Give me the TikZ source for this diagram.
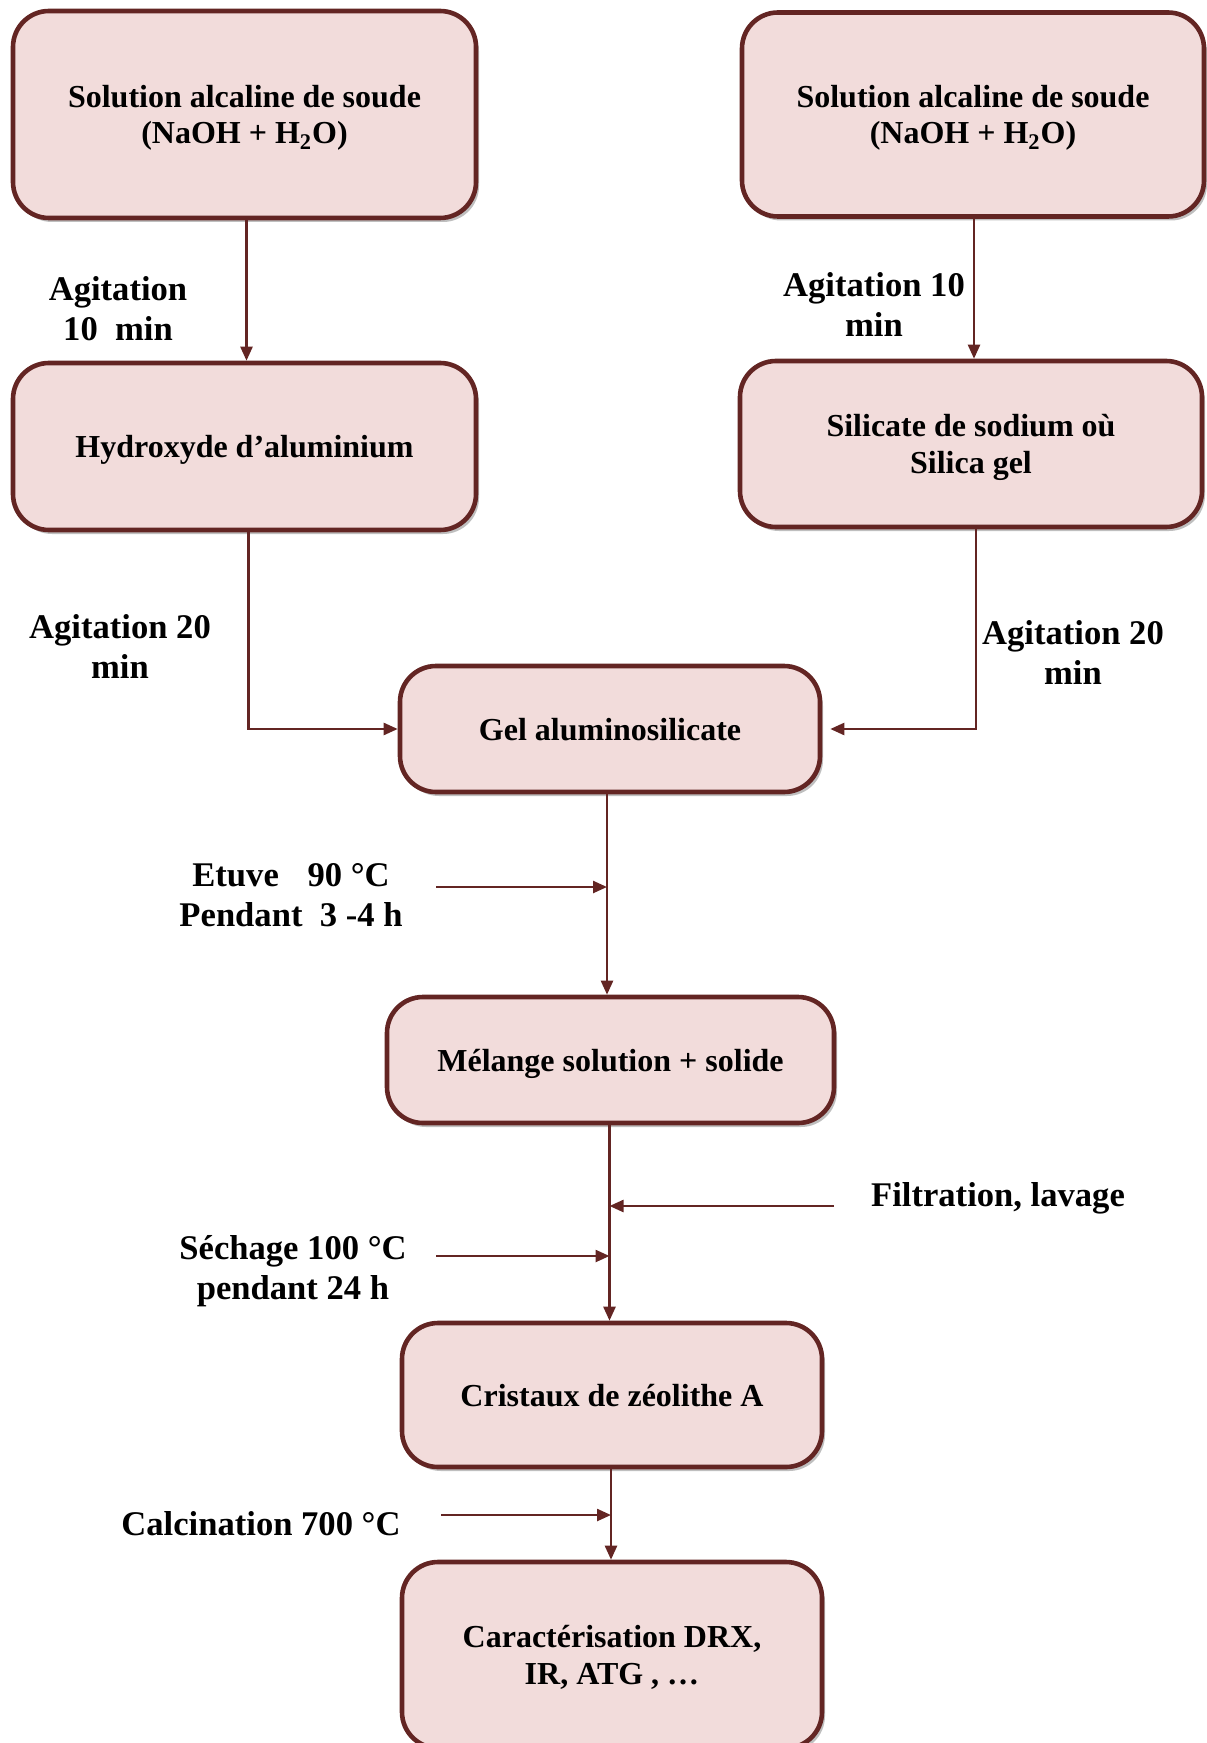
\documentclass[tikz,border=0pt]{standalone}
\usepackage{fontspec}
\setmainfont{Liberation Serif}
\usetikzlibrary{arrows.meta,shadows}
\definecolor{boxfill}{HTML}{F2DCDB}
\definecolor{boxline}{HTML}{632523}
\begin{document}
\begin{tikzpicture}[x=0.5pt,y=-0.5pt,
    procbox/.style={draw=boxline, fill=boxfill, line width=2.3pt, rounded corners=18pt,
        align=center, text depth=0pt, font=\fontsize{16}{18.4}\selectfont\bfseries,
        drop shadow={shadow xshift=1.5pt, shadow yshift=-2pt, opacity=0.25, fill=black}},
    flow/.style={draw=boxline, line width=1.2pt, -{Triangle[length=7pt,width=6pt]}},
    lbl/.style={align=center, font=\fontsize{17.3}{20}\selectfont\bfseries}]
    \useasboundingbox (0,0) rectangle (1206,1743);

    % boxes
    \node[procbox, minimum width=231.5pt, minimum height=103.5pt] (sol1) at (244.5,114.5) {Solution alcaline de soude\\(NaOH + H\textsubscript{2}O)};
    \node[procbox, minimum width=231pt, minimum height=102pt] (sol2) at (973,114.5) {Solution alcaline de soude\\(NaOH + H\textsubscript{2}O)};
    \node[procbox, minimum width=231.5pt, minimum height=83.5pt] (hydro) at (244.5,446.5) {Hydroxyde d’aluminium};
    \node[procbox, minimum width=231pt, minimum height=83pt] (silic) at (971,444) {Silicate de sodium où\\Silica gel};
    \node[procbox, minimum width=210pt, minimum height=63pt] (gel) at (610,729) {Gel aluminosilicate};
    \node[procbox, minimum width=223.5pt, minimum height=63pt] (melange) at (610.5,1060) {Mélange solution + solide};
    \node[procbox, minimum width=210pt, minimum height=72pt] (cristaux) at (612,1395) {Cristaux de zéolithe A};
    \node[procbox, minimum width=210pt, minimum height=93pt] (caract) at (612,1655) {Caractérisation DRX,\\IR, ATG , …};

    % main flow
    \draw[flow] ([xshift=1pt]sol1.south) -- ([xshift=1pt]hydro.north);
    \draw[flow] ([xshift=1.5pt]silic.north |- sol2.south) -- ([xshift=1.5pt]silic.north);
    \draw[flow] ([xshift=2pt]hydro.south) |- (gel.west);
    \draw[flow, shorten >=4pt] ([xshift=2.5pt]silic.south) |- (gel.east);
    \draw[flow] ([xshift=-1.5pt]gel.south) -- ([xshift=-1.5pt]gel.south |- melange.north);
    \draw[flow] ([xshift=-0.5pt]melange.south) -- ([xshift=-0.5pt]melange.south |- cristaux.north);
    \draw[flow] ([xshift=-0.5pt]cristaux.south) -- ([xshift=-0.5pt]caract.north);

    % side inputs
    \coordinate (etuveS) at (436,887);
    \coordinate (filtS) at (834,1206);
    \coordinate (sechS) at (436,1256);
    \coordinate (calcS) at (441,1515);
    \draw[flow] (etuveS) -- ([xshift=-1.5pt]etuveS -| gel.south);
    \draw[flow] (filtS) -- ([xshift=-0.5pt]filtS -| melange.south);
    \draw[flow] (sechS) -- ([xshift=-0.5pt]sechS -| melange.south);
    \draw[flow] (calcS) -- ([xshift=-0.5pt]calcS -| cristaux.south);

    % labels
    \node[lbl] (ag1) at (118,309) {Agitation\\10\ \ min};
    \node[lbl] (ag2) at (874,304) {Agitation 10\\min};
    \node[lbl] (ag3) at (120,646) {Agitation 20\\min};
    \node[lbl] (ag4) at (1073,652) {Agitation 20\\min};
    \node[lbl] (etuve) at (291,895) {Etuve\hspace{10pt} 90 °C\\Pendant\ \ 3 -4 h};
    \node[lbl] (filt) at (998,1198) {Filtration, lavage};
    \node[lbl] (sech) at (293,1271) {Séchage 100 °C\\pendant 24 h};
    \node[lbl] (calc) at (261,1524) {Calcination 700 °C};
\end{tikzpicture}
\end{document}
